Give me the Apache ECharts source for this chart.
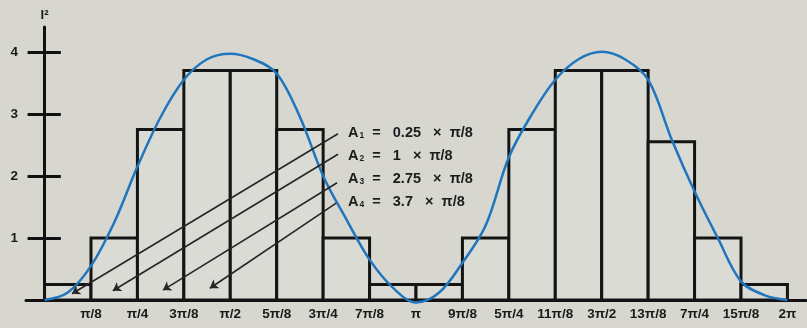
<!DOCTYPE html>
<html><head><meta charset="utf-8">
<script src="https://cdn.jsdelivr.net/npm/echarts@6/dist/echarts.min.js"></script>
<style>html,body{margin:0;padding:0;background:#d7d7d0}#c{width:807px;height:328px}</style>
</head><body><div id="c"></div>
<script>
// x in units of pi/8
var xTickLabels = ['π/8','π/4','3π/8','π/2','5π/8','3π/4','7π/8','π','9π/8','5π/4','11π/8','3π/2','13π/8','7π/4','15π/8','2π'];
var xTickValues = [1,2,3,4,5,6,7,8,9,10,11,12,13,14,15,16];
var yTickValues = [1,2,3,4];
var barHeights = [0.25,1,2.75,3.7,3.7,2.75,1,0.25,0.25,1,2.75,3.7,3.7,2.55,1,0.25];
var curveX = [0,0.5,1,1.5,2,2.5,3,3.5,4,4.5,5,5.5,6,6.5,7,7.5,8,8.5,9,9.5,10,10.5,11,11.5,12,12.5,13,13.5,14,14.5,15,15.5,16];
var curveY = [0,0.12,0.55,1.25,2.15,2.95,3.55,3.88,3.97,3.88,3.65,2.95,2.0,1.3,0.65,0.2,-0.04,0.12,0.6,1.2,2.3,3.0,3.55,3.88,4.0,3.88,3.55,2.6,1.75,1.0,0.3,0.08,0];
var arrowHeads = [[0.59,0.10],[1.47,0.15],[2.55,0.16],[3.56,0.19]];
var arrowTails = [[6.32,2.68],[6.32,2.35],[6.30,1.89],[6.28,1.56]];
var annSub = ['1','2','3','4'];
var annVal = ['0.25','1','2.75','3.7'];

var FONT = 'Liberation Sans';
var chart = echarts.init(document.getElementById('c'), null, {renderer:'canvas'});

var barData = barHeights.map(function(h,i){ return [i, i+1, h]; });
var curveData = curveX.map(function(x,i){ return [x, curveY[i]]; });
var arrowData = arrowHeads.map(function(h,i){ return [{coord:h},{coord:arrowTails[i]}]; });
var innerTicks = yTickValues.map(function(v){ return [{coord:[0,v]},{coord:[0.35,v]}]; });

var graphics = annSub.map(function(s,i){
  return {type:'text', left:348, top:125 + i*23, z:100,
    style:{text:'{a|A}{s|'+s+'}{a|  =   '+annVal[i]+'   ×  π/8}', rich:{
      a:{fontFamily:FONT,fontWeight:'bold',fontSize:14.5,fill:'#1c1c1c'},
      s:{fontFamily:FONT,fontWeight:'bold',fontSize:8.5,fill:'#1c1c1c',padding:[7,0,0,1]}
    }}};
});

chart.setOption({
  backgroundColor:'#d7d7d0',
  animation:false,
  grid:{left:26,right:1,top:27,bottom:28,outerBoundsMode:'none',containLabel:false},
  xAxis:{type:'value',min:-0.4,max:16.4,
    axisLine:{show:true,onZero:true,lineStyle:{color:'#111',width:3}},
    axisTick:{show:false},splitLine:{show:false},
    axisLabel:{customValues:xTickValues,margin:7,color:'#1a1a1a',fontFamily:FONT,fontWeight:'bold',fontSize:13.5,
      formatter:function(v){ var i=xTickValues.indexOf(Math.round(v)); return i>=0?xTickLabels[i]:''; }}
  },
  yAxis:{type:'value',min:0,max:4.4,name:'I²',nameGap:5,
    nameTextStyle:{color:'#1a1a1a',fontFamily:FONT,fontWeight:'bold',fontSize:13},
    axisLine:{show:true,onZero:true,lineStyle:{color:'#111',width:3}},
    axisTick:{show:true,customValues:yTickValues,length:17,lineStyle:{color:'#111',width:3}},
    splitLine:{show:false},
    axisLabel:{customValues:yTickValues,margin:8,color:'#1a1a1a',fontFamily:FONT,fontWeight:'bold',fontSize:13.5}
  },
  graphic:graphics,
  series:[
    {type:'custom',z:2,data:barData,clip:false,
      renderItem:function(params,api){
        var p0=api.coord([api.value(0),api.value(2)]);
        var p1=api.coord([api.value(1),0]);
        return {type:'rect',shape:{x:p0[0],y:p0[1],width:p1[0]-p0[0],height:p1[1]-p0[1]},
          style:{fill:'#dbdbd5',stroke:'#141414',lineWidth:3}};
      }},
    {type:'line',z:3,data:curveData,smooth:0.35,showSymbol:false,symbol:'none',clip:false,
      lineStyle:{color:'#1f76bd',width:2.5}},
    {type:'line',z:4,data:[],
      markLine:{silent:true,symbol:['arrow','none'],symbolSize:8,label:{show:false},
        lineStyle:{color:'#262626',width:1.6,type:'solid'},data:arrowData}},
    {type:'line',z:4,data:[],
      markLine:{silent:true,symbol:['none','none'],label:{show:false},
        lineStyle:{color:'#111',width:3,type:'solid'},data:innerTicks}}
  ]
});
</script></body></html>
